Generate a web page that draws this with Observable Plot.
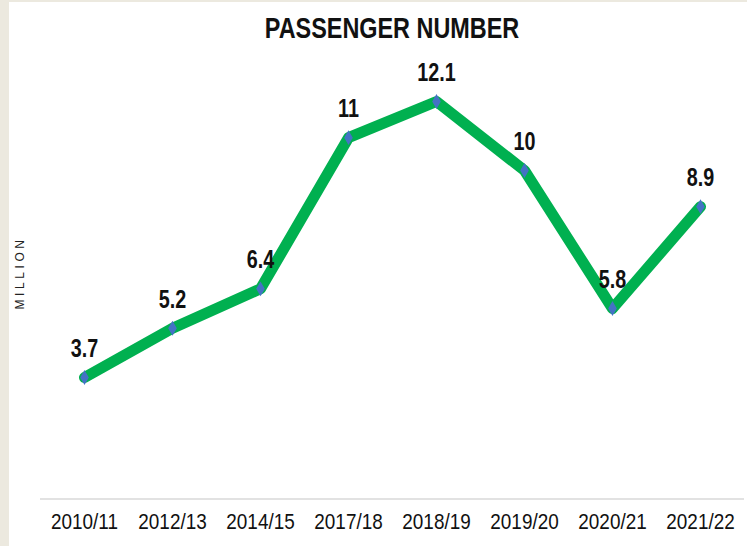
<!DOCTYPE html>
<html>
<head>
<meta charset="utf-8">
<script src="https://cdn.jsdelivr.net/npm/d3@7"></script>
<script src="https://cdn.jsdelivr.net/npm/@observablehq/plot@0.6"></script>
<style>
  html, body { margin: 0; padding: 0; }
  body { width: 747px; height: 546px; background: #ECE9DF; position: relative; overflow: hidden; }
  #panel { position: absolute; left: 9px; top: 2px; width: 738px; height: 544px; background: #fff; }
  #title { position: absolute; left: 14px; width: 738px; top: 9px; text-align: center;
    font-family: "Liberation Sans", Arial, sans-serif; font-weight: bold; font-size: 30px; color: #111;
    transform: scaleX(0.78); transform-origin: 369px 0; white-space: nowrap; }
  #ylab { position: absolute; left: 11px; top: 271px; transform: translate(-50%, -50%) rotate(-90deg);
    font-family: "Liberation Sans", Arial, sans-serif; font-size: 12px; letter-spacing: 3.6px; color: #222; white-space: nowrap; }
  #chart { position: absolute; left: 0; top: 0; }
</style>
</head>
<body>
<div id="panel">
  <div id="chart"></div>
  <div id="title">PASSENGER NUMBER</div>
  <div id="ylab">MILLION</div>
</div>
<script>
const years = ["2010/11", "2012/13", "2014/15", "2017/18", "2018/19", "2019/20", "2020/21", "2021/22"];
const passengers = [3.7, 5.2, 6.4, 11, 12.1, 10, 5.8, 8.9];
const valueLabels = ["3.7", "5.2", "6.4", "11", "12.1", "10", "5.8", "8.9"];

const data = years.map((y, i) => ({year: y, value: passengers[i], label: valueLabels[i]}));
const font = "'Liberation Sans', Arial, sans-serif";

const plot = Plot.plot({
  width: 738,
  height: 544,
  marginLeft: 31,
  marginRight: 3,
  marginTop: 36.6,
  marginBottom: 47.4,
  style: {background: "transparent", fontFamily: font},
  x: {type: "point", domain: years, padding: 0.5, label: null},
  y: {domain: [0, 14], axis: null},
  marks: [
    Plot.ruleY([0], {stroke: "#D9D9D9", strokeWidth: 1.5}),
    Plot.axisX({tickSize: 0, tickPadding: 14, fontSize: 22, fill: "#111", label: null}),
    Plot.line(data, {x: "year", y: "value", stroke: "#00B050", strokeWidth: 11,
      strokeLinecap: "round", strokeLinejoin: "round"}),
    Plot.dot(data, {x: "year", y: "value", symbol: "diamond", r: 4.5, fill: "#4472C4", stroke: "none"}),
    Plot.text(data, {x: "year", y: "value", text: "label", dy: -29, fontSize: 26,
      fontWeight: "bold", fill: "#111", fontFamily: font})
  ]
});

// emulate a narrow typeface by compressing text horizontally around its anchor
plot.querySelectorAll("text").forEach(t => {
  const isAxis = !!t.closest('g[aria-label^="x-axis"]');
  const s = isAxis ? 0.86 : 0.76;
  const tr = t.getAttribute("transform") || "";
  const x = t.getAttribute("x");
  if (x != null && !tr) {
    const xv = +x;
    t.setAttribute("transform", `translate(${xv},0) scale(${s},1) translate(${-xv},0)`);
  } else {
    t.setAttribute("transform", tr + ` scale(${s},1)`);
  }
});
document.getElementById("chart").appendChild(plot);
</script>
</body>
</html>
